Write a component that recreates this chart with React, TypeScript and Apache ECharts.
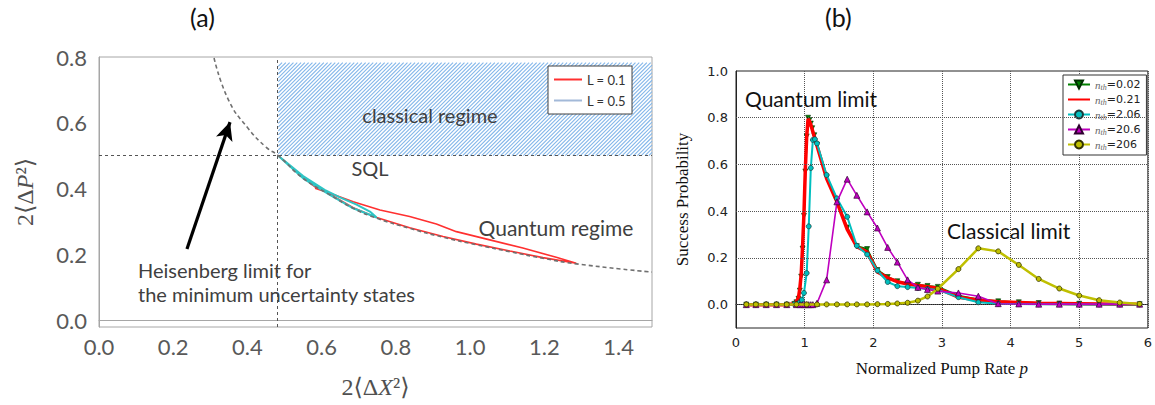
import React, { useEffect, useRef } from 'react';
import * as echarts from 'echarts';

// ---------- Panel (a) data ----------
const heisenbergX = [0.31, 0.349, 0.401, 0.45, 0.483, 0.55, 0.622, 0.685, 0.748, 0.837, 0.927, 1.017, 1.107, 1.196, 1.286, 1.489];
const heisenbergY = [0.797, 0.669, 0.584, 0.526, 0.5, 0.431, 0.381, 0.34, 0.31, 0.279, 0.252, 0.229, 0.208, 0.188, 0.171, 0.146];

const l01X = [0.483, 0.55, 0.582, 0.622, 0.685, 0.748, 0.837, 0.927, 1.017, 1.107, 1.196, 1.286, 1.232, 1.142, 1.053, 0.963, 0.909, 0.837, 0.757, 0.685, 0.617, 0.582];
const l01Y = [0.5, 0.433, 0.405, 0.383, 0.342, 0.312, 0.281, 0.254, 0.231, 0.21, 0.19, 0.173, 0.191, 0.219, 0.244, 0.269, 0.292, 0.315, 0.335, 0.36, 0.388, 0.401];

const l05X = [0.483, 0.55, 0.608, 0.649, 0.694, 0.73, 0.748, 0.685, 0.622, 0.55, 0.483];
const l05Y = [0.5, 0.438, 0.396, 0.373, 0.351, 0.33, 0.312, 0.34, 0.381, 0.431, 0.5];

const sqlValue = 0.5;
const sqlX = 0.483;
const classicalBox = [0.483, 0.5, 1.49, 0.783];
const arrowFrom = [0.237, 0.216];
const arrowTo = [0.353, 0.602];

// ---------- Panel (b) data ----------
const greenX = [0.15, 0.29, 0.44, 0.59, 0.74, 0.85, 0.88, 0.91, 0.93, 0.95, 0.97, 0.99, 1.01, 1.03, 1.05, 1.07, 1.09, 1.11, 1.14, 1.18, 1.32, 1.47, 1.62, 1.76, 1.91, 2.06, 2.21, 2.35, 2.5, 2.65, 2.79, 2.94, 3.24, 3.53, 3.82, 4.12, 4.41, 4.71, 5.0, 5.29, 5.59, 5.88];
const greenY = [0, 0, 0, 0, 0, 0.003, 0.01, 0.025, 0.06, 0.12, 0.24, 0.38, 0.57, 0.72, 0.8, 0.79, 0.775, 0.755, 0.725, 0.685, 0.545, 0.445, 0.33, 0.25, 0.238, 0.148, 0.118, 0.1, 0.09, 0.085, 0.08, 0.076, 0.038, 0.022, 0.014, 0.01, 0.007, 0.005, 0.004, 0.003, 0.002, 0.002];
const redX = greenX;
const redY = [0, 0, 0, 0, 0, 0.004, 0.012, 0.03, 0.07, 0.13, 0.25, 0.39, 0.58, 0.72, 0.795, 0.785, 0.77, 0.75, 0.72, 0.68, 0.54, 0.44, 0.322, 0.248, 0.225, 0.14, 0.115, 0.098, 0.088, 0.082, 0.077, 0.07, 0.032, 0.02, 0.012, 0.009, 0.006, 0.005, 0.004, 0.003, 0.002, 0.002];
const cyanX = [0.15, 0.29, 0.44, 0.59, 0.74, 0.85, 0.9, 0.93, 0.96, 0.99, 1.03, 1.06, 1.09, 1.12, 1.15, 1.18, 1.32, 1.47, 1.62, 1.76, 1.91, 2.06, 2.21, 2.35, 2.5, 2.65, 2.79, 2.94, 3.24, 3.53, 3.82, 4.12, 4.41, 4.71, 5.0, 5.29, 5.59, 5.88];
const cyanY = [0, 0, 0, 0, 0, 0.002, 0.005, 0.01, 0.02, 0.05, 0.135, 0.335, 0.585, 0.705, 0.708, 0.69, 0.555, 0.455, 0.376, 0.252, 0.215, 0.146, 0.097, 0.079, 0.075, 0.071, 0.067, 0.063, 0.032, 0.01, 0.004, 0.003, 0.002, 0.002, 0.001, 0.001, 0.001, 0.001];
const magentaX = [0.15, 0.29, 0.44, 0.59, 0.74, 0.88, 0.93, 0.97, 1.0, 1.03, 1.06, 1.09, 1.12, 1.18, 1.32, 1.47, 1.62, 1.76, 1.91, 2.06, 2.21, 2.35, 2.5, 2.65, 2.79, 2.94, 3.24, 3.53, 3.82, 4.12, 4.41, 4.71, 5.0, 5.29, 5.59, 5.88];
const magentaY = [0, 0, 0, 0, 0, 0, 0, 0, 0, 0, 0, 0, 0, 0.006, 0.106, 0.44, 0.537, 0.468, 0.397, 0.328, 0.245, 0.182, 0.106, 0.074, 0.065, 0.058, 0.05, 0.036, 0.004, 0.003, 0.002, 0.002, 0.002, 0.002, 0.002, 0.002];
const yellowX = [0.15, 0.29, 0.44, 0.59, 0.74, 0.88, 1.03, 1.18, 1.32, 1.47, 1.62, 1.76, 1.91, 2.06, 2.21, 2.35, 2.5, 2.65, 2.79, 2.94, 3.24, 3.53, 3.82, 4.12, 4.41, 4.71, 5.0, 5.29, 5.59, 5.88];
const yellowY = [0.001, 0.001, 0.001, 0.001, 0.001, 0.001, 0.001, 0.001, 0.001, 0.001, 0.001, 0.001, 0.001, 0.002, 0.003, 0.005, 0.008, 0.017, 0.035, 0.068, 0.152, 0.241, 0.228, 0.17, 0.11, 0.069, 0.039, 0.019, 0.009, 0.003];

const bYTicks = [0, 0.2, 0.4, 0.6, 0.8, 1.0];
const bGridY = [0, 0.2, 0.4, 0.6, 0.8];
const aYTicks = [0, 0.2, 0.4, 0.6, 0.8];

const nthNames = ['n_th=0.02', 'n_th=0.21', 'n_th=2.06', 'n_th=20.6', 'n_th=206'];

const zip = (xs: number[], ys: number[]) => xs.map((x, i) => [x, ys[i]]);

const SANS_A = 'Lato, "Open Sans", sans-serif';
const MPL = '"DejaVu Sans", sans-serif';
const SERIF = '"Liberation Serif", "DejaVu Serif", serif';

export default function App() {
  const ref = useRef<HTMLDivElement>(null);
  useEffect(() => {
    if (!ref.current) return;
    const chart = echarts.init(ref.current, null, { renderer: 'svg' });

    const option: any = {
      animation: false,
      backgroundColor: '#fff',
      grid: [
        { left: 99, top: 57, width: 553, height: 270, show: true, borderColor: '#a6a6a6', borderWidth: 1 },
        { left: 736, top: 71, width: 417, height: 257, show: true, borderColor: '#222', borderWidth: 1 },
      ],
      xAxis: [
        {
          type: 'value', gridIndex: 0, min: 0, max: 1.49, interval: 0.2,
          axisLine: { show: true, lineStyle: { color: '#a6a6a6' } },
          axisTick: { show: false }, splitLine: { show: false },
          axisLabel: { showMaxLabel: false, fontFamily: SANS_A, fontSize: 22, color: '#595959', margin: 8, formatter: (v: number) => v.toFixed(1) },
          name: '{n|2⟨Δ}{it|X}{n|²⟩}', nameLocation: 'middle', nameGap: 48,
          nameTextStyle: { rich: {
            n: { fontFamily: SERIF, fontSize: 24, color: '#505050' },
            it: { fontFamily: SERIF, fontSize: 24, fontStyle: 'italic', color: '#505050' },
          } },
        },
        {
          type: 'value', gridIndex: 1, min: 0, max: 6, interval: 1,
          axisLine: { show: true, lineStyle: { color: '#222' } },
          axisTick: { show: false },
          splitLine: { show: true, lineStyle: { color: '#555', type: [1, 1], width: 1 } },
          axisLabel: { fontFamily: MPL, fontSize: 13, color: '#222', margin: 8 },
          name: '{n|Normalized Pump Rate }{it|p}', nameLocation: 'middle', nameGap: 32,
          nameTextStyle: { rich: {
            n: { fontFamily: SERIF, fontSize: 17, color: '#111' },
            it: { fontFamily: SERIF, fontSize: 17, fontStyle: 'italic', color: '#111' },
          } },
        },
      ],
      yAxis: [
        {
          type: 'value', gridIndex: 0, min: -0.021, max: 0.8,
          axisLine: { show: true, lineStyle: { color: '#a6a6a6' } },
          axisTick: { show: false }, splitLine: { show: false },
          axisLabel: { customValues: aYTicks, fontFamily: SANS_A, fontSize: 22, color: '#595959', margin: 12, formatter: (v: number) => v.toFixed(1) },
          name: '{n|2⟨Δ}{it|P}{n|²⟩}', nameLocation: 'middle', nameGap: 62, nameRotate: 90,
          nameTextStyle: { rich: {
            n: { fontFamily: SERIF, fontSize: 24, color: '#505050' },
            it: { fontFamily: SERIF, fontSize: 24, fontStyle: 'italic', color: '#505050' },
          } },
        },
        {
          type: 'value', gridIndex: 1, min: -0.1, max: 1.0,
          axisLine: { show: true, lineStyle: { color: '#222' } },
          axisTick: { show: false }, splitLine: { show: false },
          axisLabel: { customValues: bYTicks, fontFamily: MPL, fontSize: 13, color: '#222', margin: 8, formatter: (v: number) => v.toFixed(1) },
          name: 'Success Probability', nameLocation: 'middle', nameGap: 45, nameRotate: 90,
          nameTextStyle: { fontFamily: SERIF, fontSize: 17, color: '#111' },
        },
      ],
      legend: [
        {
          data: [
            { name: 'L = 0.1', itemStyle: { color: '#ff3030' } },
            { name: 'L = 0.5', itemStyle: { color: '#a3b9d8' } },
          ],
          icon: 'rect',
          orient: 'vertical', left: 548, top: 66, padding: [7, 6, 7, 6], itemGap: 8,
          itemWidth: 28, itemHeight: 2,
          backgroundColor: '#fff', borderColor: '#404040', borderWidth: 1, borderRadius: 0,
          textStyle: { fontFamily: SANS_A, fontSize: 13, color: '#333' },
        },
        {
          data: [
            { name: nthNames[0] },
            { name: nthNames[1], itemStyle: { opacity: 0 } },
            { name: nthNames[2] },
            { name: nthNames[3] },
            { name: nthNames[4] },
          ],
          orient: 'vertical', left: 1063, top: 75, padding: [4, 6, 4, 4], itemGap: 3,
          itemWidth: 22, itemHeight: 10,
          backgroundColor: '#fff', borderColor: '#333', borderWidth: 1, borderRadius: 0,
          formatter: (name: string) => `{i|n}{s|th}{v|=${name.split('=')[1]}}`,
          textStyle: { rich: {
            i: { fontFamily: SERIF, fontStyle: 'italic', fontSize: 11, color: '#666' },
            s: { fontFamily: SERIF, fontStyle: 'italic', fontSize: 8, color: '#666', padding: [5, 0, 0, 0] },
            v: { fontFamily: MPL, fontSize: 11, color: '#222' },
          } },
        },
      ],
      graphic: [
        { type: 'text', z: 100, left: 190, top: 4, style: { text: '(a)', fontFamily: SANS_A, fontSize: 25, fill: '#111' } },
        { type: 'text', z: 100, left: 825, top: 4, style: { text: '(b)', fontFamily: SANS_A, fontSize: 25, fill: '#111' } },
        { type: 'text', z: 100, x: 430, y: 115, style: { text: 'classical regime', fontFamily: SANS_A, fontSize: 20, fill: '#404040', align: 'center', verticalAlign: 'middle' } },
        { type: 'text', z: 100, x: 370, y: 168, style: { text: 'SQL', fontFamily: SANS_A, fontSize: 20, fill: '#404040', align: 'center', verticalAlign: 'middle' } },
        { type: 'text', z: 100, x: 556, y: 227, style: { text: 'Quantum regime', fontFamily: SANS_A, fontSize: 21, fill: '#404040', align: 'center', verticalAlign: 'middle' } },
        { type: 'text', z: 100, x: 138, y: 270, style: { text: 'Heisenberg limit for', fontFamily: SANS_A, fontSize: 20, fill: '#404040', align: 'left', verticalAlign: 'middle' } },
        { type: 'text', z: 100, x: 138, y: 294, style: { text: 'the minimum uncertainty states', fontFamily: SANS_A, fontSize: 20, fill: '#404040', align: 'left', verticalAlign: 'middle' } },
        { type: 'text', z: 100, x: 745, y: 98, style: { text: 'Quantum limit', fontFamily: SANS_A, fontSize: 21, fill: '#111', align: 'left', verticalAlign: 'middle' } },
        { type: 'text', z: 100, x: 947, y: 230, style: { text: 'Classical limit', fontFamily: SANS_A, fontSize: 21, fill: '#111', align: 'left', verticalAlign: 'middle' } },
      ],
      series: [
        // ---- panel (a) ----
        {
          type: 'custom', name: 'classical', xAxisIndex: 0, yAxisIndex: 0, z: 1,
          data: [classicalBox],
          encode: { x: [0, 2], y: [1, 3] },
          renderItem: (_p: any, api: any) => {
            const p0 = api.coord([api.value(0), api.value(1)]);
            const p1 = api.coord([api.value(2), api.value(3)]);
            const left = p0[0], bottom = p0[1], right = p1[0], top = p1[1];
            const children: any[] = [];
            const step = 3.8;
            for (let c = left + top; c <= right + bottom; c += step) {
              const xa = Math.max(left, c - bottom);
              const xb = Math.min(right, c - top);
              if (xb > xa) {
                children.push({ type: 'line', shape: { x1: xa, y1: c - xa, x2: xb, y2: c - xb }, style: { stroke: '#82b6ea', lineWidth: 1.1 } });
              }
            }
            return { type: 'group', children };
          },
        },
        {
          type: 'line', name: 'L = 0.1', xAxisIndex: 0, yAxisIndex: 0, z: 3,
          data: zip(l01X, l01Y), symbol: 'none', showSymbol: false,
          lineStyle: { color: '#ff3030', width: 1.6 }, itemStyle: { color: '#ff3030' },
        },
        {
          type: 'line', name: 'L = 0.5', xAxisIndex: 0, yAxisIndex: 0, z: 4,
          data: zip(l05X, l05Y), symbol: 'none', showSymbol: false,
          lineStyle: { color: '#2ec4c4', width: 2 }, itemStyle: { color: '#2ec4c4' },
        },
        {
          type: 'line', name: 'heisenberg', xAxisIndex: 0, yAxisIndex: 0, z: 5,
          data: zip(heisenbergX, heisenbergY), smooth: true, symbol: 'none', showSymbol: false,
          lineStyle: { color: '#707070', width: 1.6, type: [4, 3] },
          markLine: {
            silent: true, symbol: ['none', 'none'], label: { show: false },
            lineStyle: { color: '#555', width: 1, type: [3, 3] },
            data: [
              { yAxis: sqlValue },
              { xAxis: sqlX },
              [
                { coord: arrowFrom, symbol: 'none', lineStyle: { color: '#000', width: 3.2, type: 'solid' } },
                { coord: arrowTo, symbol: 'arrow', symbolSize: [13, 18] },
              ],
            ],
          },
        },
        // ---- panel (b) ----
        {
          type: 'line', name: 'bgrid', xAxisIndex: 1, yAxisIndex: 1, data: [], z: 1,
          markLine: {
            silent: true, symbol: ['none', 'none'], label: { show: false },
            lineStyle: { color: '#555', width: 1, type: [1, 1] },
            data: bGridY.map((v) => ({ yAxis: v })),
          },
        },
        {
          type: 'line', name: nthNames[0], xAxisIndex: 1, yAxisIndex: 1, z: 2,
          data: zip(greenX, greenY), symbol: 'triangle', symbolRotate: 180, symbolSize: 5,
          lineStyle: { color: '#008000', width: 2 },
          itemStyle: { color: '#008000', borderColor: '#003000', borderWidth: 0.6 },
        },
        {
          type: 'line', name: nthNames[1], xAxisIndex: 1, yAxisIndex: 1, z: 3,
          data: zip(redX, redY), symbol: 'none', showSymbol: false,
          lineStyle: { color: '#ff0000', width: 3.5 }, itemStyle: { color: '#ff0000' },
        },
        {
          type: 'line', name: nthNames[2], xAxisIndex: 1, yAxisIndex: 1, z: 4,
          data: zip(cyanX, cyanY), symbol: 'circle', symbolSize: 5,
          lineStyle: { color: '#00bfbf', width: 2 },
          itemStyle: { color: '#00bfbf', borderColor: '#1a3a3a', borderWidth: 0.7 },
        },
        {
          type: 'line', name: nthNames[3], xAxisIndex: 1, yAxisIndex: 1, z: 5,
          data: zip(magentaX, magentaY), symbol: 'triangle', symbolSize: 6,
          lineStyle: { color: '#bf00bf', width: 1.6 },
          itemStyle: { color: '#bf00bf', borderColor: '#300030', borderWidth: 0.7 },
        },
        {
          type: 'line', name: nthNames[4], xAxisIndex: 1, yAxisIndex: 1, z: 6,
          data: zip(yellowX, yellowY), symbol: 'circle', symbolSize: 5,
          lineStyle: { color: '#bfbf00', width: 2.5 },
          itemStyle: { color: '#bfbf00', borderColor: '#333300', borderWidth: 0.8 },
        },
      ],
    };

    chart.setOption(option);
    return () => chart.dispose();
  }, []);

  return <div ref={ref} style={{ position: 'fixed', left: 0, top: 0, width: 1155, height: 405 }} />;
}
